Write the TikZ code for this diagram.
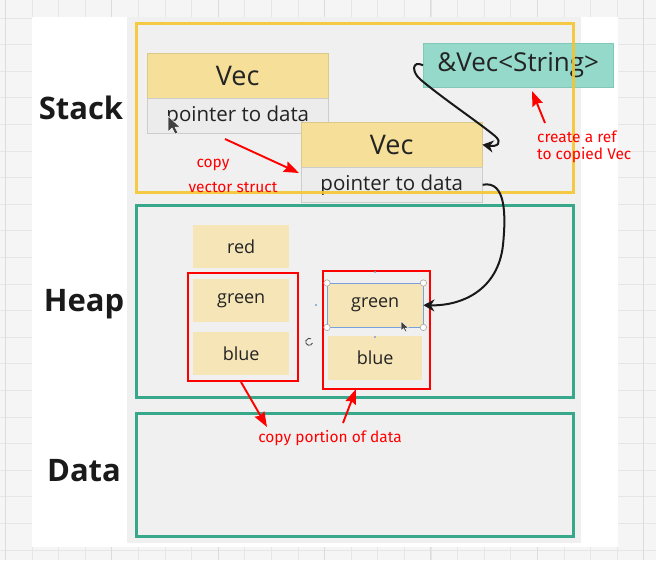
\documentclass[tikz,border=0pt]{standalone}
\usepackage{fontspec}
\setmainfont{Open Sans}
\newfontfamily\annot{Fira Sans}
\usetikzlibrary{arrows.meta}
\definecolor{bgc}{RGB}{245,245,245}
\definecolor{gridc}{RGB}{230,230,230}
\definecolor{gridm}{RGB}{220,220,220}
\definecolor{panelc}{RGB}{240,240,240}
\definecolor{stackc}{RGB}{245,198,50}
\definecolor{tealc}{RGB}{55,168,138}
\definecolor{headc}{RGB}{245,223,153}
\definecolor{rowc}{RGB}{236,236,236}
\definecolor{rowb}{RGB}{205,205,205}
\definecolor{refc}{RGB}{148,217,201}
\definecolor{refb}{RGB}{130,200,185}
\definecolor{itemc}{RGB}{245,229,183}
\definecolor{txtc}{RGB}{35,35,35}
\definecolor{lblc}{RGB}{26,26,26}
\definecolor{redc}{RGB}{255,0,0}
\definecolor{selc}{RGB}{120,160,220}
\begin{document}
\begin{tikzpicture}[x=1pt,y=-1pt,
  lbl/.style={text=lblc,font=\bfseries\fontsize{31}{31}\selectfont,inner sep=0pt},
  vechead/.style={fill=headc,draw=headc!90!black,line width=0.4pt,anchor=north west,inner sep=0pt,minimum width=181pt,minimum height=45pt,text=txtc,font=\fontsize{27}{27}\selectfont},
  vecrow/.style={fill=rowc,draw=rowb,line width=0.6pt,anchor=north west,inner sep=0pt,minimum width=181pt,minimum height=35pt,text=txtc,font=\fontsize{20.5}{20.5}\selectfont},
  refbox/.style={fill=refc,draw=refb,line width=0.4pt,anchor=north west,inner sep=0pt,minimum width=190pt,minimum height=44pt,text=txtc,font=\fontsize{26}{26}\selectfont},
  item/.style={fill=itemc,anchor=north west,inner sep=0pt,minimum width=96pt,minimum height=43pt,text=txtc,font=\fontsize{18}{18}\selectfont},
  frame/.style={draw,line width=2.8pt,anchor=north west,inner sep=0pt},
  redframe/.style={draw=redc,line width=2.3pt,anchor=north west,inner sep=0pt},
  note/.style={text=redc,font=\annot\fontsize{15.5}{17}\selectfont,inner sep=0pt},
  redarrow/.style={draw=redc,line width=1.9pt,-{Stealth[length=15pt,width=11pt,inset=2pt]}},
  blk/.style={draw=black!90,line width=2pt,-{Stealth[length=11pt,width=12pt,inset=3.5pt]}},
  handle/.style={fill=white,draw=gray!70,line width=0.6pt},
  cursor/.style={fill=black!75,draw=white,line width=0.5pt,line join=round}
]
\useasboundingbox (0,0) rectangle (656,560);
% background and grid
\fill[bgc] (0,0) rectangle (656,560);
\foreach \i in {0,...,24} {
  \draw[gridc,line width=0.8pt] (5.3+\i*26.6,0) -- (5.3+\i*26.6,560);
}
\foreach \j in {-1,...,20} {
  \draw[gridc,line width=0.8pt] (0,18+\j*26.6) -- (656,18+\j*26.6);
}
\foreach \i in {0,...,6} {
  \draw[gridm,line width=1pt] (5.3+\i*106.4,0) -- (5.3+\i*106.4,560);
}
% panels
\fill[white] (32,17) rectangle (618,547);
\fill[panelc] (127,17) rectangle (581,543);
% side labels
\node[lbl] (stk) at (81,108) {Stack};
\node[lbl] (hp) at (84,304) {Heap};
\node[lbl] (dt) at (84,471) {Data};
% stack contents
\node[vechead] (v1h) at (147,53) {Vec};
\node[vecrow] (v1r) at (147,98) {pointer to data};
\node[vechead] (v2h) at (301,122) {Vec};
\node[vecrow] (v2r) at (301,167) {pointer to data};
\node[refbox] (ref) at (423,43) {\&Vec<String>};
% frames
\node[frame,draw=stackc,opacity=0.9,minimum width=437pt,minimum height=169pt] (stackf) at (135,22) {};
\node[frame,draw=tealc,minimum width=437pt,minimum height=192pt] (heapf) at (135,204) {};
\node[frame,draw=tealc,minimum width=437pt,minimum height=123pt] (dataf) at (135,412) {};
% heap items
\node[item] (r1) at (193,225) {red};
\node[item] (g1) at (193,279) {green};
\node[item] (b1) at (193,332) {blue};
\node[item,minimum height=44pt] (g2) at (327,283) {green};
\node[item,minimum width=94pt,minimum height=44pt] (b2) at (328,336) {blue};
\node[redframe,minimum width=110pt,minimum height=108pt] (rf1) at (187,272) {};
\node[redframe,minimum width=107pt,minimum height=118pt] (rf2) at (322,270) {};
% selection decoration
\draw[selc,line width=0.8pt] (g2.north west) rectangle (g2.south east);
\foreach \a in {north west,north east,south west,south east} {
  \draw[handle] (g2.\a) circle (3.2pt);
}
\fill[selc] (375,272) circle (1.2pt);
\fill[selc] (375,337) circle (1.2pt);
\fill[selc] (316,305) circle (1.2pt);
\draw[black!70,line width=0.9pt] (312.5,343) arc[start angle=20,end angle=300,radius=3.5];
% cursors
\draw[cursor] (168,116) -- (168,132) -- (172,128) -- (175,134) -- (178,133) -- (175,127) -- (180,127) -- cycle;
\draw[cursor] (401,321) -- (401,331) -- (403.5,328.5) -- (405.5,332) -- (407,331.3) -- (405,328) -- (408.5,328) -- cycle;
% black connectors
\draw[blk] (ref.west) .. controls (412,60) and (411,72) .. (421,80) .. controls (445,100) and (478,122) .. (495,136) .. controls (503,143) and (497,147) .. (v2h.east);
\draw[blk] (v2r.east) .. controls (506,180) and (506,215) .. (503,245) .. controls (498,290) and (462,306) .. (g2.east);
% red annotations
\node[note] (n1a) at (213,165) {copy};
\node[note] (n1b) at (233,187) {vector struct};
\node[note,align=left,anchor=north west] (n2) at (537,131) {create a ref\\to copied Vec};
\node[note] (n3) at (330,438) {copy portion of data};
\coordinate (a1s) at (225,139);
\coordinate (a1t) at (299,173);
\coordinate (a2s) at (545,123);
\coordinate (a2t) at (532,91);
\coordinate (a3s) at (241,382);
\coordinate (a3t) at (267,427);
\coordinate (a4s) at (343,423);
\coordinate (a4t) at (356,389);
\draw[redarrow] (a1s) -- (a1t);
\draw[redarrow] (a2s) -- (a2t);
\draw[redarrow] (a3s) -- (a3t);
\draw[redarrow] (a4s) -- (a4t);
\end{tikzpicture}
\end{document}
